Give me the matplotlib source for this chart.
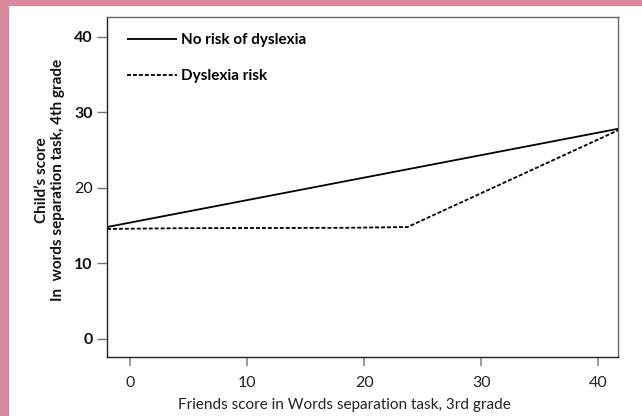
import matplotlib
matplotlib.use("Agg")
import matplotlib.pyplot as plt
from matplotlib.patches import Rectangle

plt.rcParams['font.family'] = ['Lato', 'DejaVu Sans']

# Friends' 3rd-grade score (x) vs. child's 4th-grade score (y)
no_risk_x = [-2.0, 41.7]
no_risk_y = [14.8, 27.8]

dys_risk_x = [-2.0, 4.5, 18.5, 23.7, 41.7]
dys_risk_y = [14.55, 14.65, 14.7, 14.8, 27.6]

x_ticks = [0, 10, 20, 30, 40]
y_ticks = [0, 10, 20, 30, 40]

series_labels = ["No risk of dyslexia", "Dyslexia risk"]
x_title = "Friends score in Words separation task, 3rd grade"
y_title = "Child\u2019s score\nIn  words separation task, 4th grade"

W, H = 642, 416
fig = plt.figure(figsize=(W / 100, H / 100), dpi=100)
fig.patch.set_facecolor("white")

# pink page frame on the left and top edges
pink = "#d8879c"
fig.patches.append(Rectangle((0, 0), 8 / W, 1, transform=fig.transFigure,
                             color=pink, zorder=0))
fig.patches.append(Rectangle((0, 1 - 5 / H), 1, 5 / H, transform=fig.transFigure,
                             color=pink, zorder=0))

ax = fig.add_axes([107 / W, 1 - 357 / H, (618 - 107) / W, (357 - 17) / H])
ax.set_xlim(-2.0, 41.7)
ax.set_ylim(-2.4, 42.6)

l1, = ax.plot(no_risk_x, no_risk_y, color="black", lw=1.3,
              solid_capstyle="butt", label=series_labels[0])
l2, = ax.plot(dys_risk_x, dys_risk_y, color="black", lw=1.3,
              linestyle=(0, (2.2, 1.1)), label=series_labels[1])

for side in ("left", "bottom"):
    ax.spines[side].set_color("#222222")
    ax.spines[side].set_linewidth(1.0)
for side in ("top", "right"):
    ax.spines[side].set_color("#666666")
    ax.spines[side].set_linewidth(1.0)

ax.set_xticks(x_ticks)
ax.set_yticks(y_ticks)
ax.tick_params(axis="x", direction="out", length=6.5, width=1.2, color="#888888",
               pad=7, labelsize=11.5, labelcolor="#222222")
ax.tick_params(axis="y", direction="out", length=7.2, width=1.0, color="#777777",
               pad=3, labelsize=11.5, labelcolor="#111111")
for lab, v in zip(ax.get_yticklabels(), y_ticks):
    lab.set_fontweight("normal" if v == 20 else "bold")

fig.text(344 / W, 1 - 405 / H, x_title, ha="center", va="center",
         fontsize=11, color="#222222")
fig.text(50 / W, 1 - 180 / H, y_title, ha="center", va="center",
         rotation=90, fontsize=11, fontweight="bold", color="#111111",
         linespacing=1.15, multialignment="center")

leg = ax.legend(handles=[l1, l2], loc="upper left",
                bbox_to_anchor=(127 / W, 1 - 33 / H), bbox_transform=fig.transFigure,
                frameon=False, borderpad=0, borderaxespad=0,
                handlelength=3.3, handletextpad=0.25, labelspacing=1.45,
                prop={"size": 11, "weight": "bold"})

fig.savefig("out.png", dpi=100, facecolor=fig.get_facecolor())
